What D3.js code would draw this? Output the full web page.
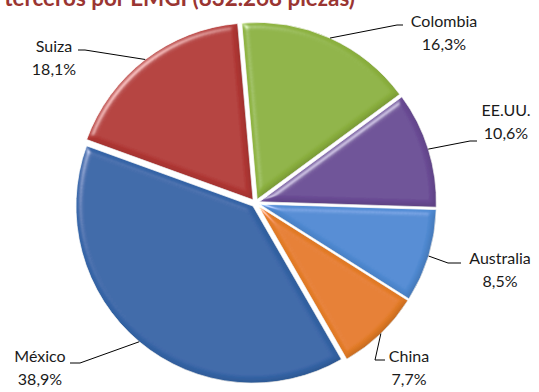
<!DOCTYPE html>
<html>
<head>
<meta charset="utf-8">
<script src="https://cdn.jsdelivr.net/npm/d3@7"></script>
<style>
  html, body { margin: 0; padding: 0; background: #ffffff; }
  svg { display: block; }
  text { font-family: Lato, "Open Sans", sans-serif; }
</style>
</head>
<body>
<div id="chart"></div>
<script>
// ---- data ----
const categories = ["Colombia", "EE.UU.", "Australia", "China", "México", "Suiza"];
const shares = [16.3, 10.6, 8.5, 7.7, 38.9, 18.1];
const sliceColors = ["#8DB23F", "#6A4C95", "#4F8AD3", "#E57D26", "#3465A7", "#B33835"];
const titleText = "terceros por EMGI (832.268 piezas)";

// ---- layout ----
const W = 539, H = 392;
const cx = 255.5, cy = 203, R = 177, explode = 4;
const startDeg = -5;
// label layout: text centre x, first baseline y, elbow point, end point of leader
const labelLayout = {
  "Colombia":  { x: 444, y: 27,  elbow: [397, 25],  end: [403, 25] },
  "EE.UU.":    { x: 506, y: 116, elbow: [470, 141], end: [477, 141] },
  "Australia": { x: 500, y: 264, elbow: [448, 263], end: [461, 263] },
  "China":     { x: 409, y: 362, elbow: [375, 360], end: [385, 360] },
  "México":    { x: 40,  y: 362, elbow: [80, 363],  end: [70, 363] },
  "Suiza":     { x: 54,  y: 52,  elbow: [85, 50],   end: [78, 50] }
};

const locale = d3.formatLocale({ decimal: ",", thousands: ".", grouping: [3], currency: ["", "€"] });
const fmt = v => locale.format(".1f")(v) + "%";

const svg = d3.select("#chart").append("svg").attr("width", W).attr("height", H);
const defs = svg.append("defs");

// bevel-like lighting filter
const f = defs.append("filter").attr("id", "bevel")
  .attr("x", "-10%").attr("y", "-10%").attr("width", "120%").attr("height", "120%");
f.append("feGaussianBlur").attr("in", "SourceAlpha").attr("stdDeviation", 3).attr("result", "blur");
const spec = f.append("feSpecularLighting").attr("in", "blur").attr("surfaceScale", 4)
  .attr("specularConstant", 0.4).attr("specularExponent", 30)
  .attr("lighting-color", "#ffffff").attr("result", "spec");
spec.append("feDistantLight").attr("azimuth", 225).attr("elevation", 40);
f.append("feComposite").attr("in", "spec").attr("in2", "SourceAlpha").attr("operator", "in").attr("result", "specIn");
f.append("feComposite").attr("in", "SourceGraphic").attr("in2", "specIn")
  .attr("operator", "arithmetic").attr("k1", 0).attr("k2", 1).attr("k3", 1).attr("k4", 0).attr("result", "lit");
// dark inner edge on the shadow side
const diff = f.append("feDiffuseLighting").attr("in", "blur").attr("surfaceScale", 4)
  .attr("diffuseConstant", 1).attr("lighting-color", "#ffffff").attr("result", "diff");
diff.append("feDistantLight").attr("azimuth", 225).attr("elevation", 55);
f.append("feComposite").attr("in", "lit").attr("in2", "diff")
  .attr("operator", "arithmetic").attr("k1", 0.4).attr("k2", 0.66).attr("k3", 0).attr("k4", 0).attr("result", "shaded");
f.append("feComposite").attr("in", "shaded").attr("in2", "SourceAlpha").attr("operator", "in");

const data = categories.map((c, i) => ({ name: c, value: shares[i], color: sliceColors[i] }));
const pie = d3.pie().sort(null).value(d => d.value)
  .startAngle(startDeg * Math.PI / 180).endAngle((startDeg + 360) * Math.PI / 180);
const arcs = pie(data);
const arc = d3.arc().innerRadius(0).outerRadius(R);

const g = svg.append("g").attr("transform", `translate(${cx},${cy})`);

function offset(d) {
  const a = (d.startAngle + d.endAngle) / 2;
  return [Math.sin(a) * explode, -Math.cos(a) * explode];
}

g.selectAll("path.slice").data(arcs).join("path")
  .attr("class", "slice")
  .attr("transform", d => { const o = offset(d); return `translate(${o[0]},${o[1]})`; })
  .attr("d", arc)
  .attr("fill", d => d.data.color)
  .attr("stroke", "#ffffff").attr("stroke-width", 0.8)
  .attr("filter", "url(#bevel)");

// leader lines and labels
const lines = svg.append("g");
const labels = svg.append("g");
arcs.forEach(d => {
  const a = (d.startAngle + d.endAngle) / 2;
  const o = offset(d);
  const sx = cx + o[0] + Math.sin(a) * R;
  const sy = cy + o[1] - Math.cos(a) * R;
  const L = labelLayout[d.data.name];
  lines.append("polyline")
    .attr("points", [[sx, sy], L.elbow, L.end].map(p => p.join(",")).join(" "))
    .attr("fill", "none").attr("stroke", "#000").attr("stroke-width", 1);
  const t = labels.append("text").attr("text-anchor", "middle")
    .attr("font-size", 16).attr("fill", "#1a1a1a");
  t.append("tspan").attr("x", L.x).attr("y", L.y).text(d.data.name);
  t.append("tspan").attr("x", L.x).attr("y", L.y + 23).text(fmt(d.data.value));
});

// title (cut off at top as in the original)
const title = svg.append("text").attr("x", 355).attr("y", 6).attr("text-anchor", "end")
  .attr("font-weight", "bold").attr("font-size", 19).attr("fill", "#9A3532")
  .text(titleText);
const tw = title.node().getComputedTextLength();
title.attr("font-size", 19 * 351 / tw);
</script>
</body>
</html>
